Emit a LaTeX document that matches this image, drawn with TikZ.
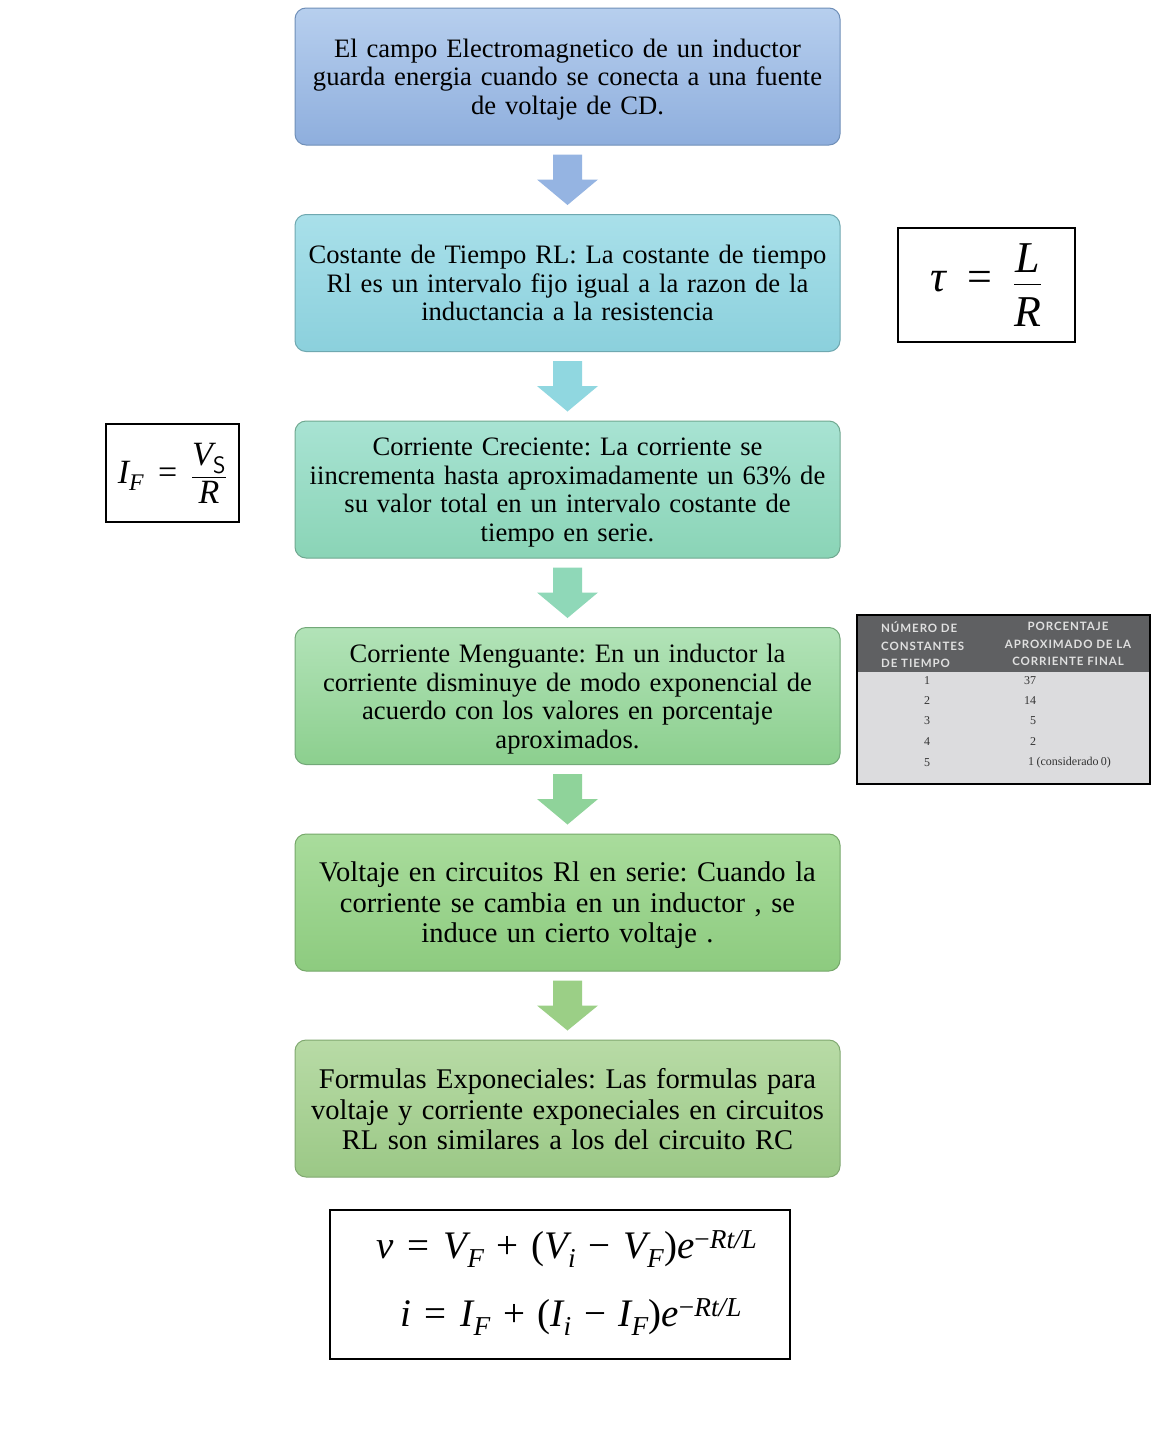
\documentclass[tikz,border=0pt]{standalone}
\usepackage{amsmath}
\usepackage{fontspec}
\setmainfont[WordSpace=0.8]{Liberation Serif}
\newfontfamily\hdrfont[LetterSpace=8]{Lato}
\usetikzlibrary{calc}
\newcommand\ti[1]{\text{\itshape #1}}
\newcommand\eqs{\mathrel{\text{=}}}
\newcommand\pls{\mathbin{\text{+}}}
\newcommand\mns{\mathbin{\text{−}}}
\newcommand\lowertxt[2]{\raisebox{-#1}[\height][\depth]{\parbox{540pt}{\centering #2}}}
\definecolor{aT}{HTML}{B7CFEE}\definecolor{aB}{HTML}{8EAEDD}\definecolor{aD}{HTML}{6F8FB8}
\definecolor{bT}{HTML}{A9E0EA}\definecolor{bB}{HTML}{8BD0DC}\definecolor{bD}{HTML}{6FA8B0}
\definecolor{cT}{HTML}{A8E3D3}\definecolor{cB}{HTML}{8AD4B6}\definecolor{cD}{HTML}{70A890}
\definecolor{dT}{HTML}{B2E3B8}\definecolor{dB}{HTML}{8CCF8E}\definecolor{dD}{HTML}{72A878}
\definecolor{eT}{HTML}{A9DC9C}\definecolor{eB}{HTML}{8DCB7F}\definecolor{eD}{HTML}{76A86A}
\definecolor{fT}{HTML}{B8DBA6}\definecolor{fB}{HTML}{9BC886}\definecolor{fD}{HTML}{80A870}
\definecolor{arA}{HTML}{95B4E2}\definecolor{arB}{HTML}{90D7E0}\definecolor{arC}{HTML}{8FD8B8}
\definecolor{arD}{HTML}{8FD39A}\definecolor{arE}{HTML}{9BCF86}
\definecolor{hdr}{HTML}{5F6062}\definecolor{tbody}{HTML}{DCDCDE}
\tikzset{
  flowbox/.style={rounded corners=11pt, line width=1pt, minimum width=545pt,
    minimum height=137pt, text width=540pt, align=center, inner sep=0pt,
    font=\frenchspacing\fontsize{26.6}{28.5}\selectfont},
  bigbox/.style={flowbox, font=\frenchspacing\fontsize{28.5}{30.5}\selectfont},
  fbox/.style={draw=black, line width=1.4pt, inner sep=0pt, align=center},
  hdrtext/.style={text=white!88!black, font=\hdrfont\bfseries\fontsize{11.5}{17.5}\selectfont, inner sep=0pt},
  celltext/.style={font=\fontsize{12}{13}\selectfont, text=black!80, inner sep=0pt},
  fmtext/.style={font=\fontsize{39}{44}\selectfont, inner sep=0pt, anchor=base},
}
\begin{document}
\begin{tikzpicture}[x=1pt,y=-1pt]
\useasboundingbox (0,0) rectangle (1172,1451);
\fill[white] (0,0) rectangle (1172,1451);

\node[flowbox, draw=aD, top color=aT, bottom color=aB] (b1) at (567.5,76.5)
 {\lowertxt{3pt}{El campo Electromagnetico de un inductor\\guarda energia cuando se conecta a una fuente\\de voltaje de CD.}};
\node[flowbox, draw=bD, top color=bT, bottom color=bB] (b2) at (567.5,283)
 {Costante de Tiempo RL: La costante de tiempo\\Rl es un intervalo fijo igual a la razon de la\\inductancia a la resistencia};
\node[flowbox, draw=cD, top color=cT, bottom color=cB] (b3) at (567.5,489.5)
 {\lowertxt{3pt}{Corriente Creciente: La corriente se\\iincrementa hasta aproximadamente un 63\% de\\su valor total en un intervalo costante de\\tiempo en serie.}};
\node[flowbox, draw=dD, top color=dT, bottom color=dB] (b4) at (567.5,696)
 {\lowertxt{3pt}{Corriente Menguante: En un inductor la\\corriente disminuye de modo exponencial de\\acuerdo con los valores en porcentaje\\aproximados.}};
\node[bigbox, draw=eD, top color=eT, bottom color=eB] (b5) at (567.5,902.5)
 {\lowertxt{3pt}{Voltaje en circuitos Rl en serie: Cuando la\\corriente se cambia en un inductor , se\\induce un cierto voltaje .}};
\node[bigbox, draw=fD, top color=fT, bottom color=fB] (b6) at (567.5,1108.5)
 {\lowertxt{1pt}{Formulas Exponeciales: Las formulas para\\voltaje y corriente exponeciales en circuitos\\RL son similares a los del circuito RC}};

% block arrows
\foreach \a/\b/\c in {b1/b2/arA, b2/b3/arB, b3/b4/arC, b4/b5/arD, b5/b6/arE}{
  \fill[\c] ($(\a.south)+(-14.5,9)$) -- ($(\a.south)+(14.5,9)$) -- ($(\a.south)+(14.5,34)$)
    -- ($(\a.south)+(30.5,34)$) -- ($(\b.north)+(0,-9)$) -- ($(\a.south)+(-30.5,34)$)
    -- ($(\a.south)+(-14.5,34)$) -- cycle;
}

% tau box
\node[fbox, minimum width=177pt, minimum height=114pt, font=\fontsize{44}{48}\selectfont] (tau) at (986.5,285)
 {$\ti{τ}\;\; \eqs\;\; \dfrac{\rule[-9pt]{0pt}{9pt}\ti{L}}{\rule{0pt}{38pt}\ti{R}}$};

% IF box
\node[fbox, minimum width=133pt, minimum height=98pt, font=\fontsize{34}{38}\selectfont] (iff) at (172.5,473)
 {$\ti{I}_{\ti{F}} \;\eqs\; \dfrac{\ti{V}_{\text{\sffamily S}}}{\ti{R}}$};

% table
\fill[tbody] (858,616) rectangle (1149,783);
\fill[hdr] (858,616) rectangle (1149,672);
\draw[black, line width=1.4pt] (857,615) rectangle (1150,784);
\node[hdrtext, anchor=north west, align=left] (h1) at (881,622) {NÚMERO DE\\CONSTANTES\\DE TIEMPO};
\node[hdrtext, anchor=north, align=center] (h2) at (1068,622) {PORCENTAJE\\APROXIMADO DE LA\\CORRIENTE FINAL};
\foreach \n/\y/\v/\x in {1/681/37/1030, 2/701/14/1030, 3/721/5/1033, 4/742/2/1033}{
  \node[celltext] (r\n a) at (927,\y) {\n};
  \node[celltext] (r\n b) at (\x,\y) {\v};
}
\node[celltext] (r5a) at (927,763) {5};
\node[celltext, anchor=west] (r5b) at (1028,763) {1 (considerado 0)};

% formulas box
\node[fbox, minimum width=460pt, minimum height=149pt] (fm) at (560,1284.5) {};
\node[fmtext] (f1) at (567,1258)
 {$\ti{v} \;\eqs\; \ti{V}_{\ti{F}} \;\pls\; \text{(}\ti{V}_{\ti{i}} \;\mns\; \ti{V}_{\ti{F}}\text{)}\ti{e}^{\text{−}\ti{Rt/L}}$};
\node[fmtext] (f2) at (571,1326)
 {$\ti{i} \;\eqs\; \ti{I}_{\ti{F}} \;\pls\; \text{(}\ti{I}_{\ti{i}} \;\mns\; \ti{I}_{\ti{F}}\text{)}\ti{e}^{\text{−}\ti{Rt/L}}$};
\end{tikzpicture}
\end{document}
